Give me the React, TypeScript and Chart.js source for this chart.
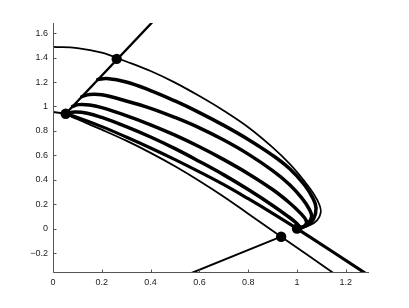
import React, { useEffect, useRef } from "react";
import { Chart, registerables } from "chart.js";

Chart.register(...registerables);

// Axis ranges and tick labels
const xRange = [0, 1.295];
const yRange = [-0.363, 1.683];
const xTicks = [0, 0.2, 0.4, 0.6, 0.8, 1, 1.2];
const yTicks = [-0.2, 0, 0.2, 0.4, 0.6, 0.8, 1, 1.2, 1.4, 1.6];

// Outer boundary curve (thin)
const outerX = [0, 0.1, 0.2, 0.3, 0.4, 0.5, 0.6, 0.7, 0.8, 0.9, 0.97, 1.03, 1.07, 1.093, 1.097, 1.083, 1.05, 1.0];
const outerY = [1.487, 1.478, 1.44, 1.368, 1.29, 1.195, 1.085, 0.965, 0.83, 0.665, 0.53, 0.39, 0.28, 0.19, 0.13, 0.07, 0.025, 0.0];

// Slanted straight line
const slantX = [0.052, 0.404];
const slantY = [0.94, 1.683];

// Short left segment
const leftX = [0, 0.052];
const leftY = [0.955, 0.94];

// Thick trajectories
const t1X = [0.1835, 0.22, 0.3, 0.4, 0.5, 0.6, 0.7, 0.8, 0.9, 0.97, 1.03, 1.065, 1.078, 1.068, 1.04, 1.0];
const t1Y = [1.22, 1.228, 1.2, 1.13, 1.045, 0.95, 0.845, 0.73, 0.6, 0.49, 0.36, 0.25, 0.17, 0.08, 0.025, 0.0];

const t2X = [0.118, 0.15, 0.2, 0.3, 0.4, 0.5, 0.6, 0.7, 0.8, 0.9, 0.97, 1.02, 1.05, 1.06, 1.045, 1.02, 1.0];
const t2Y = [1.08, 1.098, 1.095, 1.045, 0.985, 0.91, 0.825, 0.725, 0.61, 0.475, 0.36, 0.25, 0.16, 0.1, 0.04, 0.01, 0.0];

const t3X = [0.08, 0.105, 0.15, 0.2, 0.3, 0.4, 0.5, 0.6, 0.7, 0.8, 0.9, 0.97, 1.015, 1.038, 1.035, 1.02, 1.0];
const t3Y = [1.0, 1.015, 1.012, 0.99, 0.925, 0.85, 0.765, 0.67, 0.565, 0.45, 0.32, 0.21, 0.125, 0.065, 0.03, 0.008, 0.0];

const t4X = [0.052, 0.09, 0.14, 0.2, 0.3, 0.4, 0.5, 0.6, 0.7, 0.8, 0.9, 0.96, 0.995, 1.008, 1.0];
const t4Y = [0.94, 0.955, 0.945, 0.91, 0.835, 0.75, 0.655, 0.55, 0.44, 0.32, 0.19, 0.105, 0.05, 0.018, 0.0];

// Lowest thick trajectory, continuing through the lower-right point
const t5X = [0.052, 0.1, 0.2, 0.3, 0.4, 0.5, 0.6, 0.7, 0.8, 0.9, 1.0, 1.279];
const t5Y = [0.94, 0.91, 0.835, 0.75, 0.66, 0.565, 0.465, 0.36, 0.245, 0.125, 0.0, -0.363];

// Thin lower trajectory, continuing through the crossing point
const lowX = [0.052, 0.1, 0.2, 0.3, 0.4, 0.5, 0.6, 0.7, 0.8, 0.935, 1.149];
const lowY = [0.94, 0.895, 0.81, 0.72, 0.62, 0.51, 0.39, 0.261, 0.122, -0.066, -0.363];

// Line entering from the bottom
const entryX = [0.568, 0.935];
const entryY = [-0.363, -0.066];

// Marked points
const markX = [0.052, 0.261, 0.935, 1.0];
const markY = [0.94, 1.389, -0.066, 0.0];

const pts = (xs: number[], ys: number[]) => xs.map((x, i) => ({ x, y: ys[i] }));

const lineDs = (xs: number[], ys: number[], width: number, tension = 0.4) => ({
  data: pts(xs, ys),
  showLine: true,
  borderColor: "#000",
  backgroundColor: "#000",
  borderWidth: width,
  pointRadius: 0,
  tension,
  borderCapStyle: "round" as const,
  borderJoinStyle: "round" as const,
});

const axesPlugin = {
  id: "matlabAxes",
  afterDatasetsDraw(chart: any) {
    const { ctx, chartArea, scales } = chart;
    const xs = scales.x;
    const ys = scales.y;
    ctx.save();
    ctx.strokeStyle = "#555";
    ctx.lineWidth = 1;
    const L = Math.round(chartArea.left) + 0.5;
    const B = Math.round(chartArea.bottom) - 0.5;
    ctx.beginPath();
    ctx.moveTo(L, Math.round(chartArea.top));
    ctx.lineTo(L, B);
    ctx.lineTo(Math.round(chartArea.right), B);
    ctx.stroke();
    ctx.beginPath();
    xTicks.forEach((v) => {
      const px = Math.round(xs.getPixelForValue(v)) + 0.5;
      ctx.moveTo(px, B);
      ctx.lineTo(px, B - 3);
    });
    yTicks.forEach((v) => {
      const py = Math.round(ys.getPixelForValue(v)) + 0.5;
      ctx.moveTo(L, py);
      ctx.lineTo(L + 3, py);
    });
    ctx.stroke();
    ctx.restore();
  },
};

export default function App() {
  const ref = useRef<HTMLCanvasElement | null>(null);
  useEffect(() => {
    document.body.style.margin = "0";
    if (!ref.current) return;
    const font = { family: "'Liberation Sans', Arial, sans-serif", size: 9 };
    const chart = new Chart(ref.current, {
      type: "scatter",
      data: {
        datasets: [
          lineDs(outerX, outerY, 1.7),
          lineDs(leftX, leftY, 2, 0),
          lineDs(slantX, slantY, 2.4, 0),
          lineDs(t1X, t1Y, 3.5),
          lineDs(t2X, t2Y, 3.5),
          lineDs(t3X, t3Y, 3.5),
          lineDs(t4X, t4Y, 3.5),
          lineDs(t5X, t5Y, 3.2),
          lineDs(lowX, lowY, 1.8),
          lineDs(entryX, entryY, 1.9, 0),
          {
            data: pts(markX, markY),
            showLine: false,
            pointRadius: 5.2,
            pointBackgroundColor: "#000",
            pointBorderColor: "#000",
            borderWidth: 0,
          } as any,
        ],
      },
      options: {
        animation: false,
        responsive: true,
        maintainAspectRatio: false,
        layout: { padding: { left: 0, right: 40, top: 23, bottom: 0 } },
        plugins: { legend: { display: false }, tooltip: { enabled: false } },
        scales: {
          x: {
            type: "linear",
            min: xRange[0],
            max: xRange[1],
            grid: { display: false, drawTicks: false },
            border: { display: false },
            afterBuildTicks: (s: any) => {
              s.ticks = xTicks.map((v) => ({ value: v }));
            },
            afterFit: (s: any) => {
              s.height = 35;
            },
            ticks: {
              font,
              color: "#222",
              padding: 4,
              maxRotation: 0,
              autoSkip: false,
              callback: (v: any) => String(v),
            },
          },
          y: {
            type: "linear",
            min: yRange[0],
            max: yRange[1],
            grid: { display: false, drawTicks: false },
            border: { display: false },
            afterBuildTicks: (s: any) => {
              s.ticks = yTicks.map((v) => ({ value: v }));
            },
            afterFit: (s: any) => {
              s.width = 53;
            },
            ticks: {
              font,
              color: "#222",
              padding: 5,
              autoSkip: false,
              callback: (v: any) => (Number(v) < 0 ? "\u2212" + String(Math.abs(Number(v))) : String(v)),
            },
          },
        },
      },
      plugins: [axesPlugin],
    });
    return () => chart.destroy();
  }, []);
  return (
    <div style={{ position: "fixed", left: 0, top: 0, width: 409, height: 308, background: "#fff" }}>
      <canvas ref={ref} />
    </div>
  );
}
